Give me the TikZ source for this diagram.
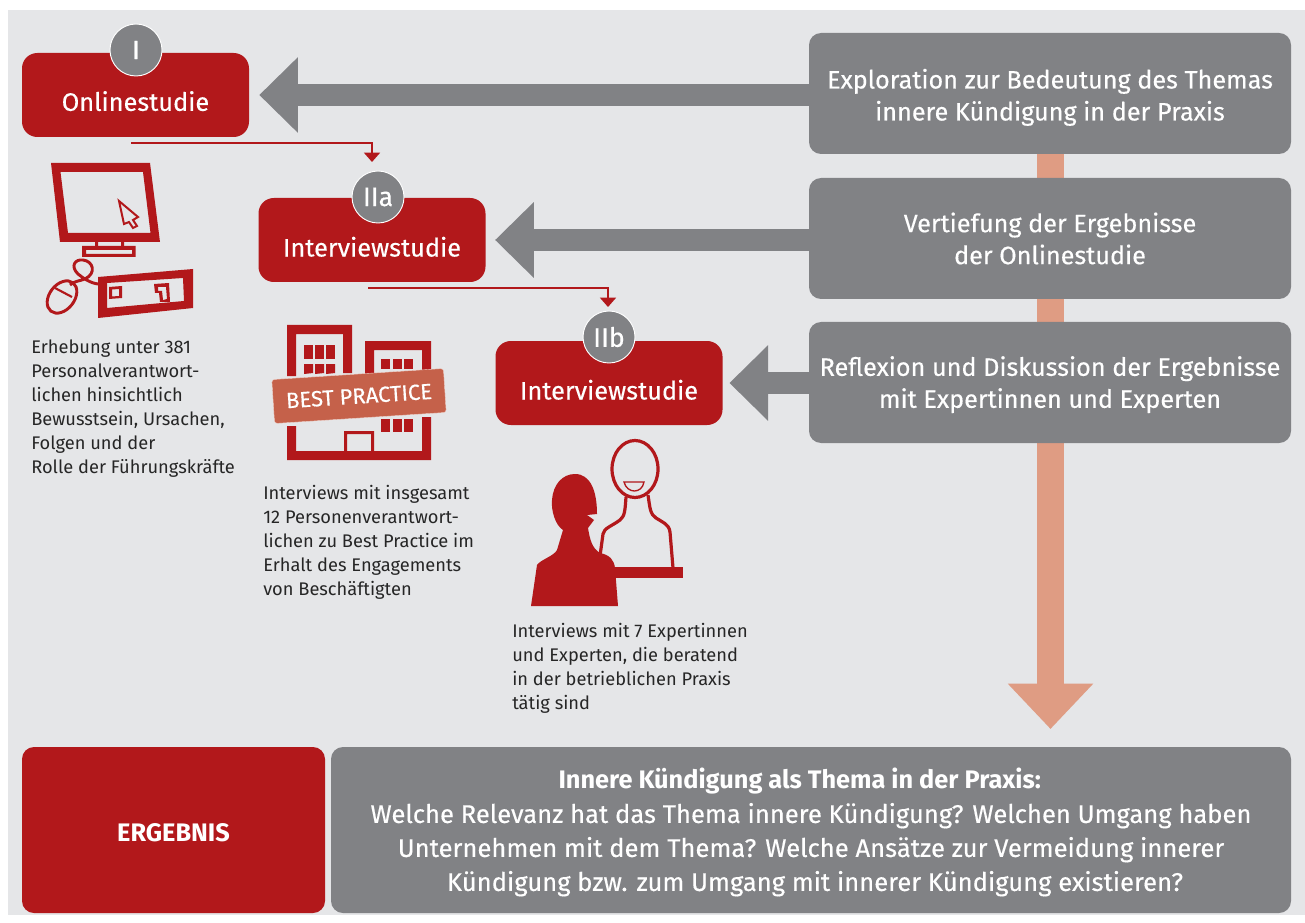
\documentclass[tikz,border=0pt]{standalone}
\usepackage{fontspec}
\setmainfont{Fira Sans}
\newfontface\medf{Fira Sans}[FakeBold=0.35]
\usetikzlibrary{arrows.meta,positioning}
\definecolor{rd}{HTML}{B2181B}
\definecolor{gy}{HTML}{818285}
\definecolor{bgp}{HTML}{E5E6E8}
\definecolor{sal}{HTML}{DF9C83}
\definecolor{bp}{HTML}{C5614A}
\tikzset{
 px/.style={x=0.75pt,y=-0.75pt},
 redbox/.style={fill=rd,rounded corners=11.5pt,text=white,inner sep=0pt,font=\fontsize{19}{22}\selectfont\medf,align=center},
 graybox/.style={fill=gy,rounded corners=9pt,text=white,inner sep=0pt,font=\fontsize{18.9}{24}\selectfont\medf,align=center},
 badge/.style={circle,fill=gy,draw=white,line width=0.7pt,minimum size=39pt,inner sep=0pt,text=white,font=\fontsize{20}{22}\selectfont\medf},
 bodytxt/.style={anchor=north west,inner sep=0pt,align=left,font=\fontsize{13.7}{18}\selectfont,text=black!85},
 bigarrow/.style={draw=gy,line width=16.5pt,-{Triangle[length=29pt,width=55pt]}},
 thinarrow/.style={draw=rd,line width=1.3pt,-{Triangle[length=7pt,width=12pt]}},
 icon/.style={fill=rd,even odd rule},
 iconline/.style={draw=rd,line width=2.2pt},
}
\begin{document}
\begin{tikzpicture}[px]
\useasboundingbox (0,0) rectangle (1305,923);
\fill[white] (0,0) rectangle (1305,923);
\fill[bgp] (8,10) rectangle (1305,915);
% vertical arrow
\coordinate (vs) at (1050.5,150);
\coordinate (ve) at (1050.5,729);
\draw[draw=sal,line width=20pt,-{Triangle[length=34pt,width=62pt]}] (vs) -- (ve);
% right boxes
\node[graybox,minimum width=361.5pt,minimum height=90.75pt] (ex) at (1050,93.5) {\rule{0pt}{20.5pt}Exploration zur Bedeutung des Themas\\innere Kündigung in der Praxis};
\node[graybox,minimum width=361.5pt,minimum height=90.75pt] (ve2) at (1050,238.5) {Vertiefung der Ergebnisse\\der Onlinestudie};
\node[graybox,minimum width=361.5pt,minimum height=90.75pt] (re) at (1050,382.5) {\rule{0pt}{18pt}Reflexion und Diskussion der Ergebnisse\\mit Expertinnen und Experten};
% red boxes
\node[redbox,minimum width=170.25pt,minimum height=63pt] (on) at (135.5,95) {\\[2pt]Onlinestudie};
\node[redbox,minimum width=170.25pt,minimum height=63pt] (iia) at (372,240) {\\[3pt]Interviewstudie};
\node[redbox,minimum width=170.25pt,minimum height=63pt] (iib) at (609,383) {\\[3pt]Interviewstudie};
\node[badge] (b1) at (136,50) {I};
\node[badge] (b2) at (378,197) {IIa};
\node[badge] (b3) at (609,337) {IIb};
% grey arrows
\draw[bigarrow] (ex.west |- on.east) -- ([xshift=7.5pt]on.east);
\draw[bigarrow] (ve2.west |- iia.east) -- ([xshift=7pt]iia.east);
\draw[bigarrow] (re.west |- iib.east) -- ([xshift=5pt]iib.east);
% thin arrows
\coordinate (t1) at (131,143);
\coordinate (t1b) at (372,143);
\coordinate (t1e) at (372,162);
\draw[thinarrow] (t1) -- (t1b) -- (t1e);
\coordinate (t2) at (368,288);
\coordinate (t2b) at (608,288);
\coordinate (t2e) at (608,307);
\draw[thinarrow] (t2) -- (t2b) -- (t2e);
% monitor icon
\fill[icon] (51,163) -- (150,163) -- (160,242) -- (60,242) -- cycle (60.5,172) -- (143,172) -- (150.5,233) -- (68,233) -- cycle;
\draw[rd,line width=1.5pt,fill=bgp] (119,201) -- (138,217) -- (133,220) -- (137,226) -- (133,228) -- (129,222) -- (124,224) -- cycle;
\fill[icon] (95,242) rectangle (98,247) (121,242) rectangle (124,247);
\fill[icon] (82,246) rectangle (135.5,257) (86,250) rectangle (132,254);
\fill[icon] (98,277) -- (193,269) -- (193,308) -- (98,318) -- cycle (107,283) -- (183,278) -- (184,301) -- (107,308) -- cycle;
\fill[icon] (109,287) -- (122,286) -- (122,298) -- (109,299) -- cycle (112,289.5) -- (119,289) -- (119,296) -- (112,296.5) -- cycle;
\fill[icon] (154,284) -- (169,283) -- (170,302) -- (160,302) -- (159,293) -- (155,293) -- cycle (158,287) -- (166,287) -- (167,299) -- (163,300) -- (162,291) -- (158,291) -- cycle;
\draw[iconline] (98,284) .. controls (90,283) and (83,278) .. (78,274) .. controls (70,266) and (75,259) .. (83,260) .. controls (93,261) and (97,273) .. (85,279) .. controls (80,281) and (74,281) .. (70,285);
\draw[iconline,rotate around={-38:(62,297)}] (62,297) ellipse (12.5 and 18);
\draw[rd,line width=1.6pt] (55,288) -- (72,297);
% building icon
\fill[rd] (287,325) -- (352,325) -- (352,373) -- (343,373) -- (343,334) -- (296,334) -- (296,376) -- (287,376) -- cycle;
\fill[rd] (365,341) -- (431,341) -- (431,375) -- (422,375) -- (422,350) -- (374,350) -- (374,375) -- (365,375) -- cycle;
\fill[rd] (287,426) -- (296,426) -- (296,451) -- (422,451) -- (422,417) -- (431,417) -- (431,460) -- (287,460) -- cycle;
\foreach \x in {304,315,326}{\fill[rd] (\x,345) rectangle ++(9,14); \fill[rd] (\x,364) -- ++(9,0) -- ++(0,9) -- ++(-9,1) -- cycle;}
\foreach \x in {381,393,404}{\fill[rd] (\x,359) rectangle ++(9,10); \fill[rd] (\x,419) rectangle ++(9,13);}
\fill[rd,even odd rule] (344,431) rectangle (374,451) (347,434) rectangle (371,451);
\node[fill=bp,rounded corners=2pt,draw=white!70!bp,line width=.3pt,text=white,rotate=3.7,minimum width=129pt,minimum height=33pt,inner sep=0pt,font=\fontsize{16.5}{18}\selectfont\medf] (bpn) at (359,396) {BEST PRACTICE};
% heads icon
\draw[rd,line width=2.4pt] (635,469) ellipse (23 and 28.5);
\draw[rd,line width=1pt,fill=bgp] (624,482) -- (644,482) .. controls (642,494) and (627,494) .. (624,482) -- cycle;
\draw[rd,line width=2.4pt] (626,497) .. controls (625,510) and (625,516) .. (620,520) .. controls (612,526) and (604,528) .. (603,534) -- (600,556);
\draw[rd,line width=2.4pt] (648,495) .. controls (650,508) and (650,514) .. (656,518) .. controls (662,522) and (669,524) .. (670,532) -- (673,568);
\fill[rd] (610,567) rectangle (683,578);
\fill[rd] (531,606) -- (537,565) .. controls (540,560) and (554,556) .. (557,550) -- (563,530)
 .. controls (555,525) and (551,510) .. (552,500) .. controls (553,485) and (562,474) .. (575,474)
 .. controls (590,474) and (597,490) .. (597,514) -- (587,515) -- (594,520) -- (588,528) .. controls (590,540) and (592,548) .. (600,553)
 .. controls (610,555) and (614,560) .. (615,568) -- (618,606) -- cycle;
% texts
\node[bodytxt] (t1txt) at (31,340) {Erhebung unter 381\\Personalverantwort-\\lichen hinsichtlich\\Bewusstsein, Ursachen,\\Folgen und der\\Rolle der Führungskräfte};
\node[bodytxt] (t2txt) at (263,485) {Interviews mit insgesamt\\12 Personenverantwort-\\lichen zu Best Practice im\\Erhalt des Engagements\\von Beschäftigten};
\node[bodytxt] (t3txt) at (512,623) {Interviews mit 7 Expertinnen\\und Experten, die beratend\\in der betrieblichen Praxis\\tätig sind};
% bottom
\node[fill=rd,rounded corners=9pt,text=white,minimum width=227.25pt,minimum height=124.5pt,inner sep=0pt,font=\fontsize{19}{22}\selectfont\bfseries] (erg) at (173.5,830) {\rule{0pt}{18pt}ERGEBNIS};
\node[graybox,minimum width=720pt,minimum height=124.5pt,font=\fontsize{19.2}{25.5}\selectfont\medf] (res) at (811,830) {\rule{0pt}{19pt}{\normalfont\fontsize{19}{25.5}\selectfont\bfseries Innere Kündigung als Thema in der Praxis:}\hspace*{17pt}\\Welche Relevanz hat das Thema innere Kündigung? Welchen Umgang haben\\Unternehmen mit dem Thema? Welche Ansätze zur Vermeidung innerer\\\hspace*{6pt}Kündigung bzw. zum Umgang mit innerer Kündigung existieren?};
\end{tikzpicture}
\end{document}
